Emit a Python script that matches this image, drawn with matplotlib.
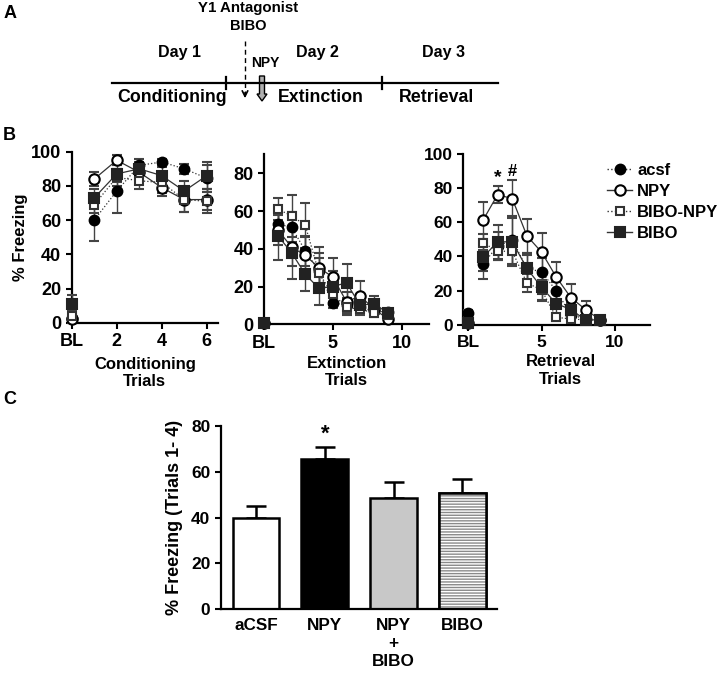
import matplotlib
matplotlib.use("Agg")
import matplotlib.pyplot as plt
from matplotlib.patches import FancyArrow
from matplotlib.lines import Line2D

plt.rcParams['font.family'] = ['Liberation Sans', 'DejaVu Sans']
plt.rcParams['font.weight'] = 'bold'
plt.rcParams['axes.linewidth'] = 1.6

# ---------------- data ----------------
series_names = ["acsf", "NPY", "BIBO-NPY", "BIBO"]

cond_trials = [0, 1, 2, 3, 4, 5, 6]
cond_acsf = [3, 60, 77, 92, 94, 90, 84.5]
cond_npy = [2, 84, 95, 88, 79, 72, 72]
cond_bibonpy = [4, 69, 85, 83, 82, 72, 71]
cond_bibo = [11, 73, 87, 90, 86, 77, 86]
cond_acsf_err = [3, 12.5, 13, 4, 2, 3, 8]
cond_npy_err = [2, 4, 3, 4, 5, 7, 6]
cond_bibonpy_err = [3, 5, 5, 5, 6, 7, 7]
cond_bibo_err = [5, 5, 5, 4, 5, 6, 8]

ext_trials = [0, 1, 2, 3, 4, 5, 6, 7, 8, 9]
ext_acsf = [0.5, 53, 51.5, 39, 28, 11.5, 10, 9, 7, 6.5]
ext_npy = [0.5, 50, 41, 36.5, 30, 25, 12, 15, 8, 3]
ext_bibonpy = [0.5, 61, 57.5, 52.5, 27, 16, 9, 8, 6, 5]
ext_bibo = [0.5, 47, 38, 26.5, 19, 20, 22, 10, 11, 6]
ext_acsf_err = [0.5, 6, 8, 8, 10, 3, 4, 3, 2, 1]
ext_npy_err = [0.5, 8, 10, 10, 11, 10, 5, 8, 3, 1]
ext_bibonpy_err = [0.5, 6, 11, 12, 8, 6, 4, 3, 2, 1]
ext_bibo_err = [0.5, 13, 14, 9, 9, 8, 10, 4, 4, 2]

ret_trials = [0, 1, 2, 3, 4, 5, 6, 7, 8, 9]
ret_acsf = [6.8, 35.5, 46, 49.7, 33, 31, 20, 6, 3.5, 3]
ret_npy = [1, 61, 76, 73.7, 52, 42.5, 28, 16, 9, 3]
ret_bibonpy = [1, 48, 43, 43, 24.5, 20.5, 4.5, 3.5, 3, 3]
ret_bibo = [1, 39.5, 48.5, 48.5, 33, 22, 12.5, 9, 3, 3]
ret_acsf_err = [2, 8.5, 8, 14, 9, 8, 5, 3, 1, 1]
ret_npy_err = [1, 11, 5, 11, 10, 11, 9, 8, 5, 1]
ret_bibonpy_err = [1, 5, 5, 8, 5, 6, 2, 2, 1, 1]
ret_bibo_err = [1, 8, 10, 14, 8, 8, 6, 4, 1, 1]

bar_labels = ["aCSF", "NPY", "NPY\n+\nBIBO", "BIBO"]
bar_values = [39.9, 65.5, 48.5, 50.7]
bar_errors = [5.3, 5.4, 6.8, 6.1]

styles = {
    "acsf": dict(marker='o', mfc='black', mec='black', ls=':', ms=7),
    "NPY": dict(marker='o', mfc='white', mec='black', ls='-', ms=7.5),
    "BIBO-NPY": dict(marker='s', mfc='white', mec='#333333', ls=':', ms=6),
    "BIBO": dict(marker='s', mfc='#222222', mec='#222222', ls='-', ms=6.5),
}

W, H = 720, 673
fig = plt.figure(figsize=(W / 100, H / 100), dpi=100)

def frac(left, top, right, bottom):
    return [left / W, 1 - bottom / H, (right - left) / W, (bottom - top) / H]

def draw_series(ax, x, ys, errs):
    for name, y, e in zip(series_names, ys, errs):
        st = styles[name]
        common = dict(ecolor='#444444', elinewidth=1.0, capsize=3.5, capthick=1.0,
                      marker=st['marker'], mfc=st['mfc'], mec=st['mec'], mew=1.5,
                      ms=st['ms'], clip_on=False, zorder=3)
        # baseline (BL) point, not connected
        ax.errorbar(x[:1], y[:1], yerr=e[:1], ls='none', **common)
        # trials, connected
        ax.errorbar(x[1:], y[1:], yerr=e[1:], color='#333333', lw=0.9, ls=st['ls'], **common)

def style_axes(ax, fs):
    ax.spines['top'].set_visible(False)
    ax.spines['right'].set_visible(False)
    ax.tick_params(direction='out', length=4, width=1.5, labelsize=fs)
    for lab in ax.get_xticklabels() + ax.get_yticklabels():
        lab.set_fontweight('bold')

# ---------- Panel B: conditioning ----------
ax1 = fig.add_axes(frac(71.7, 151.7, 218, 322.7))
draw_series(ax1, cond_trials, [cond_acsf, cond_npy, cond_bibonpy, cond_bibo],
            [cond_acsf_err, cond_npy_err, cond_bibonpy_err, cond_bibo_err])
ax1.set_xlim(0, 6.5)
ax1.set_ylim(0, 100)
ax1.set_yticks([0, 20, 40, 60, 80, 100])
ax1.set_xticks([0, 2, 4, 6])
ax1.set_xticklabels(['BL', '2', '4', '6'])
style_axes(ax1, 13)
ax1.set_ylabel('% Freezing', fontsize=12, fontweight='bold', labelpad=2)
ax1.set_xlabel('Conditioning\nTrials', fontsize=12, fontweight='bold', linespacing=1.2, labelpad=5)

# ---------- Panel B: extinction ----------
ax2 = fig.add_axes(frac(264, 154.4, 429, 324.3))
draw_series(ax2, ext_trials, [ext_acsf, ext_npy, ext_bibonpy, ext_bibo],
            [ext_acsf_err, ext_npy_err, ext_bibonpy_err, ext_bibo_err])
ax2.set_xlim(0, 12)
ax2.set_ylim(0, 90)
ax2.set_yticks([0, 20, 40, 60, 80])
ax2.set_xticks([0, 5, 10])
ax2.set_xticklabels(['BL', '5', '10'])
style_axes(ax2, 13)
ax2.set_xlabel('Extinction\nTrials', fontsize=12, fontweight='bold', linespacing=1.2, labelpad=3)

# ---------- Panel B: retrieval ----------
ax3 = fig.add_axes(frac(463.3, 153.5, 650, 325))
draw_series(ax3, ret_trials, [ret_acsf, ret_npy, ret_bibonpy, ret_bibo],
            [ret_acsf_err, ret_npy_err, ret_bibonpy_err, ret_bibo_err])
ax3.set_xlim(-0.34, 12.4)
ax3.set_ylim(0, 100)
ax3.set_yticks([0, 20, 40, 60, 80, 100])
ax3.set_xticks([0, 5, 10])
ax3.set_xticklabels(['BL', '5', '10'])
style_axes(ax3, 12.5)
ax3.set_xlabel('Retrieval\nTrials', fontsize=12, fontweight='bold', linespacing=1.2)
ax3.xaxis.set_label_coords((560.5 - 463.3) / (650 - 463.3), -0.17, transform=ax3.transAxes)
ax3.xaxis.label.set_va('top')
ax3.text(2, 81, '*', ha='center', va='bottom', fontsize=14, fontweight='bold')
ax3.text(3, 85, '#', ha='center', va='bottom', fontsize=12, fontweight='bold')

handles = []
for name in series_names:
    st = styles[name]
    handles.append(Line2D([], [], color='#333333', lw=1.0, ls=st['ls'], marker=st['marker'],
                          mfc=st['mfc'], mec=st['mec'], mew=1.5, ms=st['ms']))
fig.legend(handles, series_names, loc='upper left', bbox_to_anchor=(592 / W, 1 - 148 / H),
           frameon=False, handlelength=1.5, handletextpad=0.3,
           labelspacing=0.35, prop=dict(weight='bold', size=12))

# ---------- Panel C: bars ----------
ax4 = fig.add_axes(frac(220.7, 425.7, 496.7, 609.3))
xpos = list(range(len(bar_values)))
facecols = ['white', 'black', '#c8c8c8', 'white']
for i, (v, e) in enumerate(zip(bar_values, bar_errors)):
    ax4.errorbar(i, v, yerr=[[0], [e]], color='black', capsize=7, capthick=1.8,
                 elinewidth=1.8, fmt='none', zorder=1)
bars = ax4.bar(xpos, bar_values, width=0.68, color=facecols, edgecolor='black',
               linewidth=1.8, zorder=2)
# hatched BIBO bar
ax4.bar([xpos[3]], [bar_values[3]], width=0.68, color='white', edgecolor='#8a8a8a',
        linewidth=0, hatch='------', zorder=2.5)
ax4.bar([xpos[3]], [bar_values[3]], width=0.68, fill=False, edgecolor='black',
        linewidth=1.8, zorder=3)
ax4.set_xlim(-0.514, 3.5)
ax4.set_ylim(0, 80)
ax4.set_yticks([0, 20, 40, 60, 80])
ax4.set_xticks(xpos)
ax4.set_xticklabels(bar_labels, linespacing=1.25)
style_axes(ax4, 12.5)
ax4.tick_params(axis='x', length=0, labelsize=12.3, pad=6)
ax4.set_ylabel('% Freezing (Trials 1- 4)', fontsize=13, fontweight='bold', labelpad=6)
ax4.text(1, bar_values[1] + bar_errors[1] + 0.8, '*', ha='center', va='bottom',
         fontsize=16, fontweight='bold')

# ---------- Panel A: timeline (pixel overlay) ----------
axo = fig.add_axes([0, 0, 1, 1], zorder=10)
axo.set_xlim(0, W)
axo.set_ylim(H, 0)
axo.axis('off')
axo.plot([112, 498], [83, 83], color='black', lw=1.6)
axo.plot([226, 226], [77, 89], color='black', lw=1.6)
axo.plot([382, 382], [77, 89], color='black', lw=1.6)
axo.text(179, 52, 'Day 1', ha='center', va='center', fontsize=11.5, fontweight='bold')
axo.text(317, 52, 'Day 2', ha='center', va='center', fontsize=11.5, fontweight='bold')
axo.text(444, 52, 'Day 3', ha='center', va='center', fontsize=11.5, fontweight='bold')
axo.text(172, 98, 'Conditioning', ha='center', va='center', fontsize=12.8, fontweight='bold')
axo.text(321, 97, 'Extinction', ha='center', va='center', fontsize=12.8, fontweight='bold')
axo.text(436, 97, 'Retrieval', ha='center', va='center', fontsize=12.8, fontweight='bold')
axo.text(248, 8, 'Y1 Antagonist', ha='center', va='center', fontsize=10.8, fontweight='bold')
axo.text(248, 26, 'BIBO', ha='center', va='center', fontsize=10.5, fontweight='bold')
axo.text(265, 63, 'NPY', ha='center', va='center', fontsize=10, fontweight='bold')
axo.plot([245, 245], [41, 94], color='black', lw=1.0, ls=(0, (3.5, 2.5)))
axo.annotate('', xy=(245, 101), xytext=(245, 90),
             arrowprops=dict(arrowstyle='->', color='black', lw=1.2, mutation_scale=10))
axo.add_patch(FancyArrow(262, 76, 0, 25, width=5, head_width=10, head_length=7,
                         length_includes_head=True, facecolor='#b0b0b0',
                         edgecolor='black', lw=1.0))
axo.text(4, 13, 'A', ha='left', va='center', fontsize=13, fontweight='bold')
axo.text(3, 135, 'B', ha='left', va='center', fontsize=13, fontweight='bold')
axo.text(3, 400, 'C', ha='left', va='center', fontsize=13, fontweight='bold')

fig.savefig('out.png', dpi=100)
